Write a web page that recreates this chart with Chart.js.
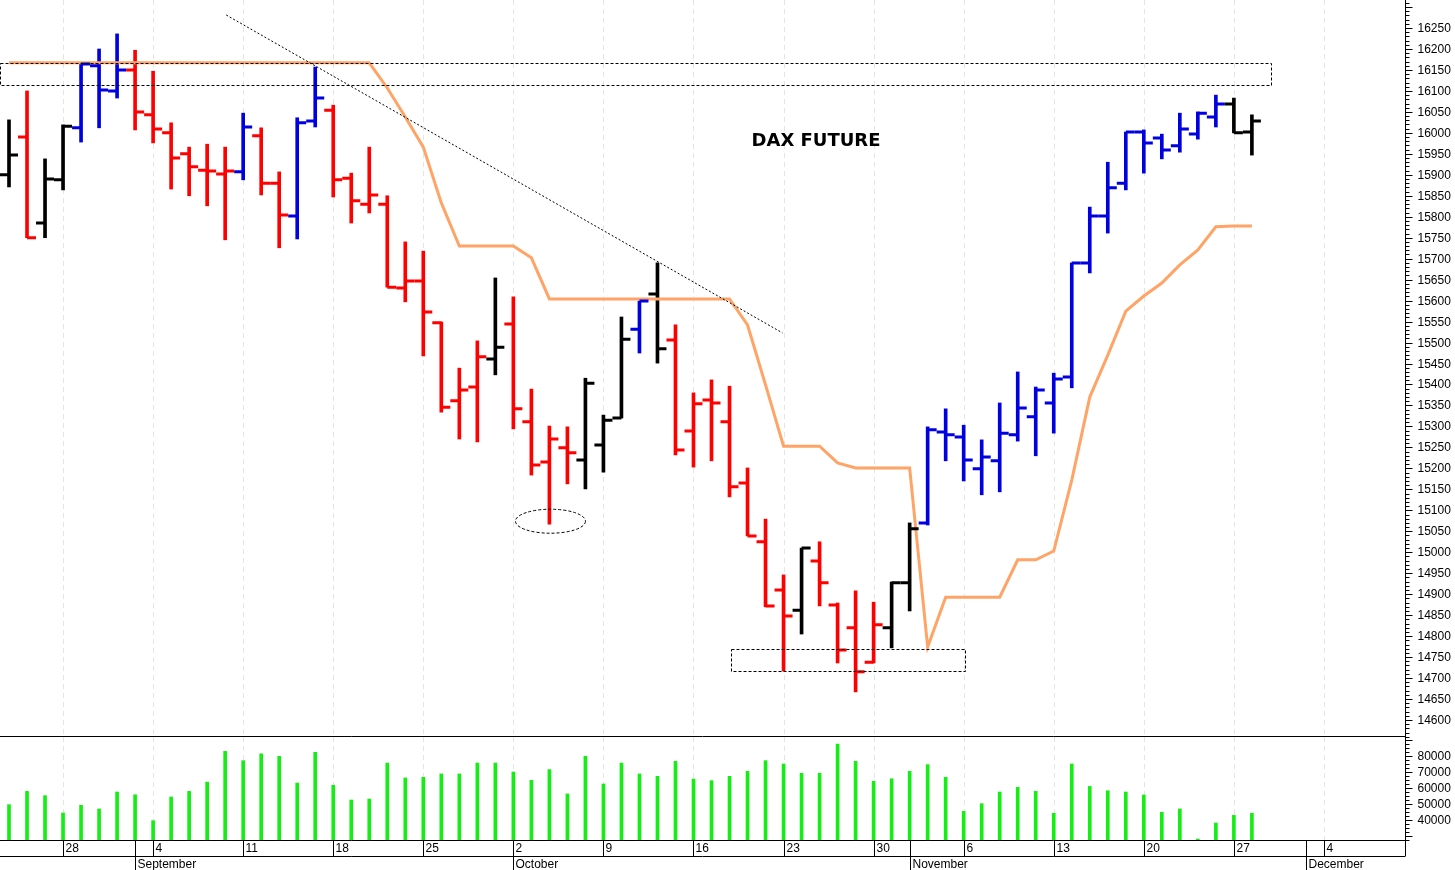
<!DOCTYPE html>
<html>
<head>
<meta charset="utf-8">
<script src="https://cdn.jsdelivr.net/npm/chart.js@4"></script>
<style>
  html, body { margin: 0; padding: 0; background: #fff; }
  #wrap { position: relative; width: 1455px; height: 870px; }
  #priceBox { position: absolute; left: 0; top: 0; width: 1455px; height: 738px; }
  #volBox { position: absolute; left: 0; top: 737px; width: 1455px; height: 133px; }
</style>
</head>
<body>
<div id="wrap">
  <div id="priceBox"><canvas id="priceChart"></canvas></div>
  <div id="volBox"><canvas id="volChart"></canvas></div>
</div>
<script>
// ---------- Data ----------
const dates = [
  "2023-08-23","2023-08-24","2023-08-25",
  "2023-08-28","2023-08-29","2023-08-30","2023-08-31","2023-09-01",
  "2023-09-04","2023-09-05","2023-09-06","2023-09-07","2023-09-08",
  "2023-09-11","2023-09-12","2023-09-13","2023-09-14","2023-09-15",
  "2023-09-18","2023-09-19","2023-09-20","2023-09-21","2023-09-22",
  "2023-09-25","2023-09-26","2023-09-27","2023-09-28","2023-09-29",
  "2023-10-02","2023-10-03","2023-10-04","2023-10-05","2023-10-06",
  "2023-10-09","2023-10-10","2023-10-11","2023-10-12","2023-10-13",
  "2023-10-16","2023-10-17","2023-10-18","2023-10-19","2023-10-20",
  "2023-10-23","2023-10-24","2023-10-25","2023-10-26","2023-10-27",
  "2023-10-30","2023-10-31","2023-11-01","2023-11-02","2023-11-03",
  "2023-11-06","2023-11-07","2023-11-08","2023-11-09","2023-11-10",
  "2023-11-13","2023-11-14","2023-11-15","2023-11-16","2023-11-17",
  "2023-11-20","2023-11-21","2023-11-22","2023-11-23","2023-11-24",
  "2023-11-27","2023-11-28","2023-11-29","2023-11-30","2023-12-01",
  "2023-12-04","2023-12-05","2023-12-06","2023-12-07","2023-12-08"
];
const monthNames = ["January","February","March","April","May","June","July","August","September","October","November","December"];

const opens = [
  15900,15990,15785,15888,16012,16160,16100,16150,16043,16000,
  15950,15911,15902,15907,15993,15880,15802,16028,16054,15892,
  15830,15830,15630,15647,15547,15361,15394,15461,15544,15311,
  15215,15249,15220,15256,15320,15532,15616,15506,15289,15363,
  15311,15165,15025,14910,14862,14979,14874,14820,14738,14820,
  14927,15070,15287,15275,15199,15218,15280,15323,15356,15418,
  15690,15802,15880,16002,15988,15969,15997,16038,16069,16002
];
const highs = [
  16031,16100,15938,16019,16164,16200,16236,16197,16147,16024,
  15966,15973,15966,16047,16012,15907,16036,16157,16066,15904,
  15966,15850,15740,15718,15549,15439,15504,15654,15609,15389,
  15301,15299,15415,15327,15561,15599,15690,15542,15380,15411,
  15396,15201,15079,14946,15010,15025,14879,14908,14881,14929,
  15070,15299,15342,15303,15268,15356,15430,15394,15427,15690,
  15823,15930,16002,16007,15997,16047,16050,16090,16083,16043
];
const lows = [
  15871,15750,15750,15864,15978,16012,16083,16007,15976,15866,
  15850,15826,15745,15888,15852,15726,15747,16014,15847,15785,
  15809,15632,15597,15468,15334,15270,15263,15423,15294,15184,
  15067,15163,15151,15191,15320,15475,15451,15232,15203,15218,
  15132,15039,14870,14717,14805,14872,14736,14667,14736,14772,
  14860,15065,15218,15170,15137,15144,15265,15230,15284,15392,
  15666,15761,15864,15904,15938,15954,15985,16014,16000,15947
];
const closes = [
  15947,15750,15890,16016,16164,16102,16150,16050,16009,15940,
  15919,15909,15909,16014,15880,15804,16024,16083,15888,15838,
  15852,15632,15647,15573,15346,15387,15466,15489,15342,15208,
  15270,15237,15403,15315,15508,15599,15485,15244,15354,15356,
  15156,15039,14872,14848,15010,14927,14767,14715,14827,14927,
  15056,15292,15280,15220,15227,15284,15344,15387,15413,15690,
  15802,15869,16002,15976,15959,16009,16047,16069,16000,16028
];
// k = black, r = red, b = blue
const barColors = (
  "krkkbbbrrrrrrbrrbbrrrrrrrrrkrrrrkkkbkrrrrrrrkrrrrkk" +
  "bbbbbbbbbbbbbbbbbkk"
).split("");
const stopLine = [
  16167,16167,16167,16167,16167,16167,16167,16167,16167,16167,
  16167,16167,16167,16167,16167,16167,16167,16167,16167,16167,
  16167,16107,16038,15966,15833,15730,15730,15730,15730,15702,
  15604,15604,15604,15604,15604,15604,15604,15604,15604,15604,
  15604,15542,15399,15253,15253,15253,15213,15201,15201,15201,
  15201,14774,14893,14893,14893,14893,14982,14982,15003,15172,
  15370,15470,15575,15611,15642,15685,15721,15776,15778,15778
];
const volumes = [
  49600,57900,55200,44400,49200,46900,57500,55800,39600,54400,
  57900,63700,82900,77100,81300,79800,63100,82300,61700,52500,
  53100,75600,66300,66700,68800,68800,75600,75600,70000,64800,
  71500,56300,79800,62500,75600,68800,67300,76700,65600,64600,
  67300,70400,77100,75000,69200,69200,87500,76700,64200,65800,
  70400,74600,66700,45400,50200,57500,60400,57900,44200,75000,
  61000,58300,57500,55600,44800,46900,28100,38100,42900,44200
];
const priceTicks = { min: 14560, max: 16310, minor: 10, major: 50, labelMin: 14600, labelMax: 16250 };
const volTicks = { min: 27500, max: 91250, minor: 2500, major: 10000, labelMin: 40000, labelMax: 80000 };

const COLORS = { k: "#000000", r: "#ff0000", b: "#0000e0" };
const AXIS_W = 50;

function dayOf(d) { return new Date(d + "T00:00:00Z"); }
const mondayIdx = dates.map((d, i) => dayOf(d).getUTCDay() === 1 ? i : -1).filter(i => i >= 0);
const monthIdx = dates.map((d, i) => i > 0 && dayOf(d).getUTCMonth() !== dayOf(dates[i - 1]).getUTCMonth() ? i : -1).filter(i => i >= 0);

// ---------- Plugins ----------
const weekGrid = {
  id: "weekGrid",
  beforeDatasetsDraw(chart) {
    const { ctx, chartArea, scales } = chart;
    ctx.save();
    ctx.strokeStyle = "#e4e4e4";
    ctx.lineWidth = 1;
    ctx.setLineDash([5, 4]);
    mondayIdx.forEach(i => {
      const x = Math.round(scales.x.getPixelForValue(i)) + 0.5;
      ctx.beginPath();
      ctx.moveTo(x, chartArea.top);
      ctx.lineTo(x, chartArea.bottom);
      ctx.stroke();
    });
    ctx.restore();
  }
};

// right value axis drawn from the y scale
const valueAxis = {
  id: "valueAxis",
  afterDraw(chart, args, opts) {
    const { ctx, chartArea, scales } = chart;
    const t = opts.ticks;
    const x0 = chartArea.right + 0.5;
    ctx.save();
    ctx.strokeStyle = "#000";
    ctx.lineWidth = 1;
    ctx.beginPath();
    ctx.moveTo(x0, 0); ctx.lineTo(x0, chartArea.bottom);
    ctx.stroke();
    ctx.fillStyle = "#000";
    ctx.font = "12px 'Liberation Sans'";
    ctx.textBaseline = "middle";
    for (let v = Math.ceil(t.min / t.minor) * t.minor; v <= t.max; v += t.minor) {
      const y = Math.round(scales.y.getPixelForValue(v)) + 0.5;
      const major = v % t.major === 0;
      ctx.beginPath();
      ctx.moveTo(x0, y); ctx.lineTo(x0 + (major ? 7 : 4), y);
      ctx.stroke();
      if (major && v >= t.labelMin && v <= t.labelMax) ctx.fillText(String(v), x0 + 12, y);
    }
    ctx.restore();
  }
};

const ohlcTicks = {
  id: "ohlcTicks",
  afterDatasetsDraw(chart) {
    const { ctx, scales } = chart;
    ctx.save();
    ctx.lineWidth = 3;
    opens.forEach((o, i) => {
      const x = scales.x.getPixelForValue(i);
      ctx.strokeStyle = COLORS[barColors[i]];
      const yo = scales.y.getPixelForValue(o);
      const yc = scales.y.getPixelForValue(closes[i]);
      ctx.beginPath();
      ctx.moveTo(x - 9, yo); ctx.lineTo(x, yo);
      ctx.moveTo(x, yc); ctx.lineTo(x + 9, yc);
      ctx.stroke();
    });
    ctx.restore();
  }
};

const annotations = {
  id: "annotations",
  afterDraw(chart) {
    const { ctx, chartArea, scales } = chart;
    const X = v => scales.x.getPixelForValue(v);
    const Y = v => scales.y.getPixelForValue(v);
    ctx.save();
    ctx.strokeStyle = "#000";
    ctx.lineWidth = 1;
    ctx.setLineDash([3, 2]);
    ctx.strokeRect(0.5, Math.round(Y(16167)) + 0.5, Math.round(X(70.05)), Math.round(Y(16114) - Y(16167)));
    ctx.strokeRect(Math.round(X(40.1)) + 0.5, Math.round(Y(14769)) + 0.5, Math.round(X(53.1) - X(40.1)), Math.round(Y(14717) - Y(14769)));
    ctx.beginPath();
    ctx.ellipse(X(30.06), Y(15074), 35, 12, 0, 0, Math.PI * 2);
    ctx.stroke();
    ctx.setLineDash([2, 2]);
    ctx.beginPath();
    ctx.moveTo(X(12.06), Y(16281));
    ctx.lineTo(X(42.94), Y(15523));
    ctx.stroke();
    ctx.setLineDash([]);
    ctx.beginPath();
    ctx.moveTo(0, chartArea.bottom - 0.5);
    ctx.lineTo(chartArea.right, chartArea.bottom - 0.5);
    ctx.stroke();
    ctx.fillStyle = "#000";
    ctx.font = "bold 18px 'DejaVu Sans'";
    ctx.textAlign = "center";
    ctx.textBaseline = "middle";
    ctx.fillText("DAX FUTURE", 816, 141);
    ctx.restore();
  }
};

const dateAxis = {
  id: "dateAxis",
  afterDraw(chart) {
    const { ctx, chartArea, scales } = chart;
    const top = chartArea.bottom + 0.5;
    const mid = top + 16;
    const bot = top + 30;
    ctx.save();
    ctx.strokeStyle = "#000";
    ctx.lineWidth = 1;
    ctx.beginPath();
    ctx.moveTo(0, top); ctx.lineTo(chartArea.right, top);
    ctx.moveTo(0, mid); ctx.lineTo(chartArea.right, mid);
    ctx.moveTo(chartArea.right + 0.5, chartArea.bottom); ctx.lineTo(chartArea.right + 0.5, mid);
    ctx.stroke();
    ctx.fillStyle = "#000";
    ctx.font = "12px 'Liberation Sans'";
    ctx.textBaseline = "middle";
    mondayIdx.forEach(i => {
      const x = Math.round(scales.x.getPixelForValue(i)) + 0.5;
      ctx.beginPath(); ctx.moveTo(x, top); ctx.lineTo(x, mid); ctx.stroke();
      ctx.fillText(String(dayOf(dates[i]).getUTCDate()), x + 2, top + 8.5);
    });
    monthIdx.forEach(i => {
      const x = Math.round(scales.x.getPixelForValue(i)) + 0.5;
      ctx.beginPath(); ctx.moveTo(x, top); ctx.lineTo(x, bot); ctx.stroke();
      ctx.fillText(monthNames[dayOf(dates[i]).getUTCMonth()], x + 2, mid + 8);
    });
    ctx.restore();
  }
};

// ---------- Price chart ----------
new Chart(document.getElementById("priceChart"), {
  type: "bar",
  data: {
    labels: dates,
    datasets: [
      {
        type: "line",
        data: stopLine,
        borderColor: "#ffa466",
        borderWidth: 3,
        pointRadius: 0,
        tension: 0,
        order: 1,
      },
      {
        type: "bar",
        data: highs.map((h, i) => [lows[i], h]),
        backgroundColor: barColors.map(c => COLORS[c]),
        barThickness: 3,
        order: 2,
      },
    ],
  },
  options: {
    responsive: true,
    maintainAspectRatio: false,
    animation: false,
    layout: { padding: { top: 0, bottom: 1, left: 0, right: AXIS_W } },
    plugins: {
      legend: { display: false },
      tooltip: { enabled: false },
      valueAxis: { ticks: priceTicks },
    },
    scales: {
      x: { display: false, offset: true },
      y: { display: false, min: 14559.5, max: 16316.8 },
    },
  },
  plugins: [weekGrid, ohlcTicks, annotations, valueAxis],
});

// ---------- Volume chart ----------
new Chart(document.getElementById("volChart"), {
  type: "bar",
  data: {
    labels: dates,
    datasets: [{
      data: volumes,
      backgroundColor: "#14ee14",
      barThickness: 3,
    }],
  },
  options: {
    responsive: true,
    maintainAspectRatio: false,
    animation: false,
    layout: { padding: { top: 0, bottom: 30, left: 0, right: AXIS_W } },
    plugins: {
      legend: { display: false },
      tooltip: { enabled: false },
      valueAxis: { ticks: volTicks },
    },
    scales: {
      x: { display: false, offset: true },
      y: { display: false, min: 27500, max: 91875 },
    },
  },
  plugins: [weekGrid, dateAxis, valueAxis],
});
</script>
</body>
</html>
